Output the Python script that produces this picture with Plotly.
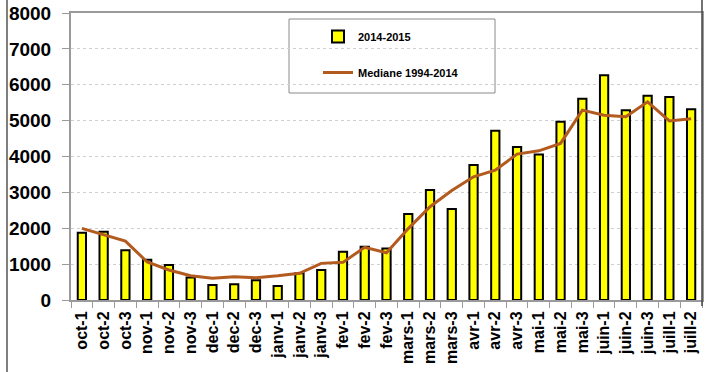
import plotly.graph_objects as go

categories = ["oct-1", "oct-2", "oct-3", "nov-1", "nov-2", "nov-3", "dec-1", "dec-2", "dec-3",
              "janv-1", "janv-2", "janv-3", "fev-1", "fev-2", "fev-3", "mars-1", "mars-2", "mars-3",
              "avr-1", "avr-2", "avr-3", "mai-1", "mai-2", "mai-3", "juin-1", "juin-2", "juin-3",
              "juill-1", "juill-2"]

values_2014_2015 = [1875, 1900, 1385, 1120, 975, 630, 420, 436, 550,
                    390, 743, 836, 1346, 1486, 1439, 2395, 3064, 2535,
                    3760, 4720, 4262, 4058, 4972, 5613, 6267, 5287, 5690,
                    5662, 5320]

mediane_1994_2014 = [1997, 1830, 1643, 1060, 836, 678, 604, 650, 622,
                     675, 743, 1021, 1049, 1470, 1318, 1990, 2600, 3050,
                     3435, 3621, 4067, 4159, 4364, 5292, 5153, 5107, 5524,
                     4990, 5050]

y_ticks = [0, 1000, 2000, 3000, 4000, 5000, 6000, 7000, 8000]

FONT = "Liberation Sans, Arial, sans-serif"

W, H = 708, 372
PL, PR, PT, PB = 71, 702, 13, 300   # plot area in pixels
pw, ph = PR - PL, PB - PT


def px(x):
    return (x - PL) / pw


def py(y):
    return (PB - y) / ph


fig = go.Figure()
fig.add_trace(go.Bar(
    x=categories, y=values_2014_2015, name="2014-2015",
    marker=dict(color="#FFFF00", line=dict(color="#000000", width=2)),
    width=0.38, legendgroup="a",
))
fig.add_trace(go.Scatter(
    x=categories, y=mediane_1994_2014, name="Mediane 1994-2014",
    mode="lines", line=dict(color="#B35A1F", width=3), legendgroup="b",
))

fig.update_layout(
    width=W, height=H,
    margin=dict(l=PL, r=W - PR, t=PT, b=H - PB, autoexpand=False),
    paper_bgcolor="white", plot_bgcolor="white",
    font=dict(family=FONT, color="#000000"),
    showlegend=True,
    legend=dict(
        x=px(318), y=py(22), xanchor="left", yanchor="top",
        bgcolor="rgba(0,0,0,0)", borderwidth=0,
        font=dict(size=11, family=FONT, weight="bold"),
        tracegroupgap=17,
    ),
    shapes=[
        # legend frame
        dict(type="rect", xref="paper", yref="paper",
             x0=px(289), x1=px(495), y0=py(93), y1=py(19),
             line=dict(color="#8a8a8a", width=1), fillcolor="rgba(0,0,0,0)", layer="below"),
        # outer left border
        dict(type="line", xref="paper", yref="paper",
             x0=px(7), x1=px(7), y0=py(H), y1=py(0),
             line=dict(color="#555555", width=1.5)),
        # right border
        dict(type="line", xref="paper", yref="paper",
             x0=1, x1=1, y0=py(306), y1=py(0),
             line=dict(color="#444444", width=1.5)),
    ],
)

fig.update_xaxes(
    type="category", automargin=False,
    tickangle=-90,
    tickfont=dict(size=16, family=FONT, weight="bold"),
    showline=True, linecolor="#9a9a9a", linewidth=2, mirror=True,
    ticks="outside", tickson="boundaries", ticklen=6, tickcolor="#9a9a9a", tickwidth=1,
    ticklabelstandoff=3,
    showgrid=False,
)
fig.update_yaxes(
    range=[0, 8000], tickvals=y_ticks, automargin=False,
    tickfont=dict(size=19, family=FONT, weight="bold"),
    ticklabeloverflow="allow",
    showline=True, linecolor="#9a9a9a", linewidth=2, mirror=True,
    ticks="outside", ticklen=7, tickcolor="#9a9a9a", tickwidth=1,
    ticklabelstandoff=7,
    showgrid=True, gridcolor="#cfcfcf", griddash="dot", gridwidth=1,
    zeroline=False,
)

fig.write_html(
    "out.html",
    config={"displayModeBar": False},
    post_script="document.body.style.margin='0px'; document.body.style.overflow='hidden';",
)
